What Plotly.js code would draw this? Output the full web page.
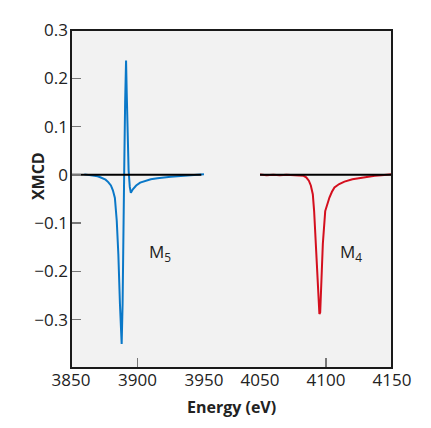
<!DOCTYPE html>
<html>
<head>
<meta charset="utf-8">
<script src="https://cdn.plot.ly/plotly-3.0.1.min.js"></script>
<style>html,body{margin:0;padding:0;background:#fff;}#chart{width:431px;height:428px;}</style>
</head>
<body>
<div id="chart"></div>
<script>
// M5 edge (blue)
var blueX = [3860, 3863, 3866, 3868, 3870, 3872, 3874, 3876, 3878, 3880,
  3881.5, 3883, 3884.4, 3885.6, 3886.8, 3888.1, 3888.8, 3889.3, 3890, 3890.7,
  3891.4, 3891.9, 3892.5, 3893.3, 3894.2, 3895, 3896.5, 3899, 3902, 3906,
  3910, 3915, 3920, 3925, 3930, 3935, 3940, 3945, 3950];
var blueY = [0.001, 0.0, -0.001, -0.002, -0.003, -0.005, -0.007, -0.010, -0.015, -0.022,
  -0.032, -0.048, -0.095, -0.164, -0.267, -0.350, -0.267, -0.060, 0.008, 0.15,
  0.237, 0.17, 0.085, 0.01, -0.025, -0.037, -0.030, -0.022, -0.016, -0.012,
  -0.009, -0.007, -0.005, -0.004, -0.003, -0.002, -0.001, 0.0, 0.001];
// M4 edge (red)
var redX = [4050, 4055, 4060, 4065, 4070, 4075, 4080, 4083, 4085, 4087,
  4088.5, 4090, 4091, 4092, 4093, 4094, 4095, 4095.6, 4096.4, 4097.6,
  4099.4, 4101, 4102.6, 4104.5, 4106.4, 4110, 4114, 4120, 4126.5, 4132,
  4137, 4142, 4146, 4150];
var redY = [0.001, -0.001, 0.0, -0.001, 0.0, -0.001, -0.001, -0.002, -0.005, -0.012,
  -0.022, -0.040, -0.075, -0.125, -0.190, -0.250, -0.288, -0.285, -0.213, -0.143,
  -0.075, -0.058, -0.047, -0.035, -0.026, -0.019, -0.014, -0.009, -0.006, -0.004,
  -0.002, -0.001, 0.0, 0.001];
// zero baselines
var zeroX1 = [3850, 3948];
var zeroX2 = [4050, 4150];
var zeroY = [0, 0];
// ticks
var xTicks1 = [3850, 3900, 3950];
var xTicks2 = [4050, 4100, 4150];
var yTicks = [0.3, 0.2, 0.1, 0, -0.1, -0.2, -0.3];
var yTickText = ['0.3', '0.2', '0.1', '0', '\u22120.1', '\u22120.2', '\u22120.3'];

var FONT = '"Open Sans", "Noto Sans", sans-serif';

var traces = [
  {x: blueX, y: blueY, xaxis: 'x', yaxis: 'y', mode: 'lines', line: {color: '#0a78c8', width: 2}, hoverinfo: 'skip'},
  {x: redX, y: redY, xaxis: 'x2', yaxis: 'y', mode: 'lines', line: {color: '#d40f1e', width: 2}, hoverinfo: 'skip'},
  {x: zeroX1, y: zeroY, xaxis: 'x', yaxis: 'y', mode: 'lines', line: {color: '#000', width: 2}, hoverinfo: 'skip'},
  {x: zeroX2, y: zeroY, xaxis: 'x2', yaxis: 'y', mode: 'lines', line: {color: '#000', width: 2}, hoverinfo: 'skip'}
];

var axisCommon = {
  ticks: 'inside', ticklen: 10, tickwidth: 1.5, tickcolor: '#777',
  showgrid: false, zeroline: false, showline: false,
  tickfont: {family: FONT, size: 17, color: '#222'}
};

var layout = {
  width: 431, height: 428,
  margin: {l: 71, r: 39, t: 30, b: 60},
  paper_bgcolor: '#ffffff',
  plot_bgcolor: '#f2f2f2',
  showlegend: false,
  font: {family: FONT, color: '#222'},
  xaxis: Object.assign({}, axisCommon, {domain: [0, 0.4143], range: [3850, 3950], tickmode: 'array', tickvals: xTicks1, anchor: 'y'}),
  xaxis2: Object.assign({}, axisCommon, {domain: [0.5888, 1], range: [4050, 4150], tickmode: 'array', tickvals: xTicks2, anchor: 'y'}),
  yaxis: Object.assign({}, axisCommon, {range: [-0.4, 0.3], tickmode: 'array', tickvals: yTicks, ticktext: yTickText, ticklabelstandoff: 2}),
  shapes: [
    {type: 'rect', xref: 'paper', yref: 'paper', x0: 0, x1: 1, y0: 0, y1: 1, fillcolor: '#f2f2f2', line: {width: 0}, layer: 'below'},
    {type: 'rect', xref: 'paper', yref: 'paper', x0: 0, x1: 1, y0: 0, y1: 1, fillcolor: 'rgba(0,0,0,0)', line: {color: '#1a1a1a', width: 2}, layer: 'above'}
  ],
  annotations: [
    {xref: 'x', yref: 'y', x: 3917, y: -0.16, text: 'M<sub>5</sub>', showarrow: false, font: {family: FONT, size: 17, color: '#222'}},
    {xref: 'x2', yref: 'y', x: 4119, y: -0.16, text: 'M<sub>4</sub>', showarrow: false, font: {family: FONT, size: 17, color: '#222'}},
    {xref: 'paper', yref: 'paper', x: 0.5, y: -0.115, yanchor: 'middle', text: '<b>Energy (eV)</b>', showarrow: false, font: {family: FONT, size: 16, color: '#222'}},
    {xref: 'paper', yref: 'paper', x: -0.143, y: 0.568, textangle: -90, text: '<b>XMCD</b>', showarrow: false, font: {family: FONT, size: 16, color: '#222'}}
  ]
};

Plotly.newPlot('chart', traces, layout, {displayModeBar: false, staticPlot: true});
</script>
</body>
</html>
